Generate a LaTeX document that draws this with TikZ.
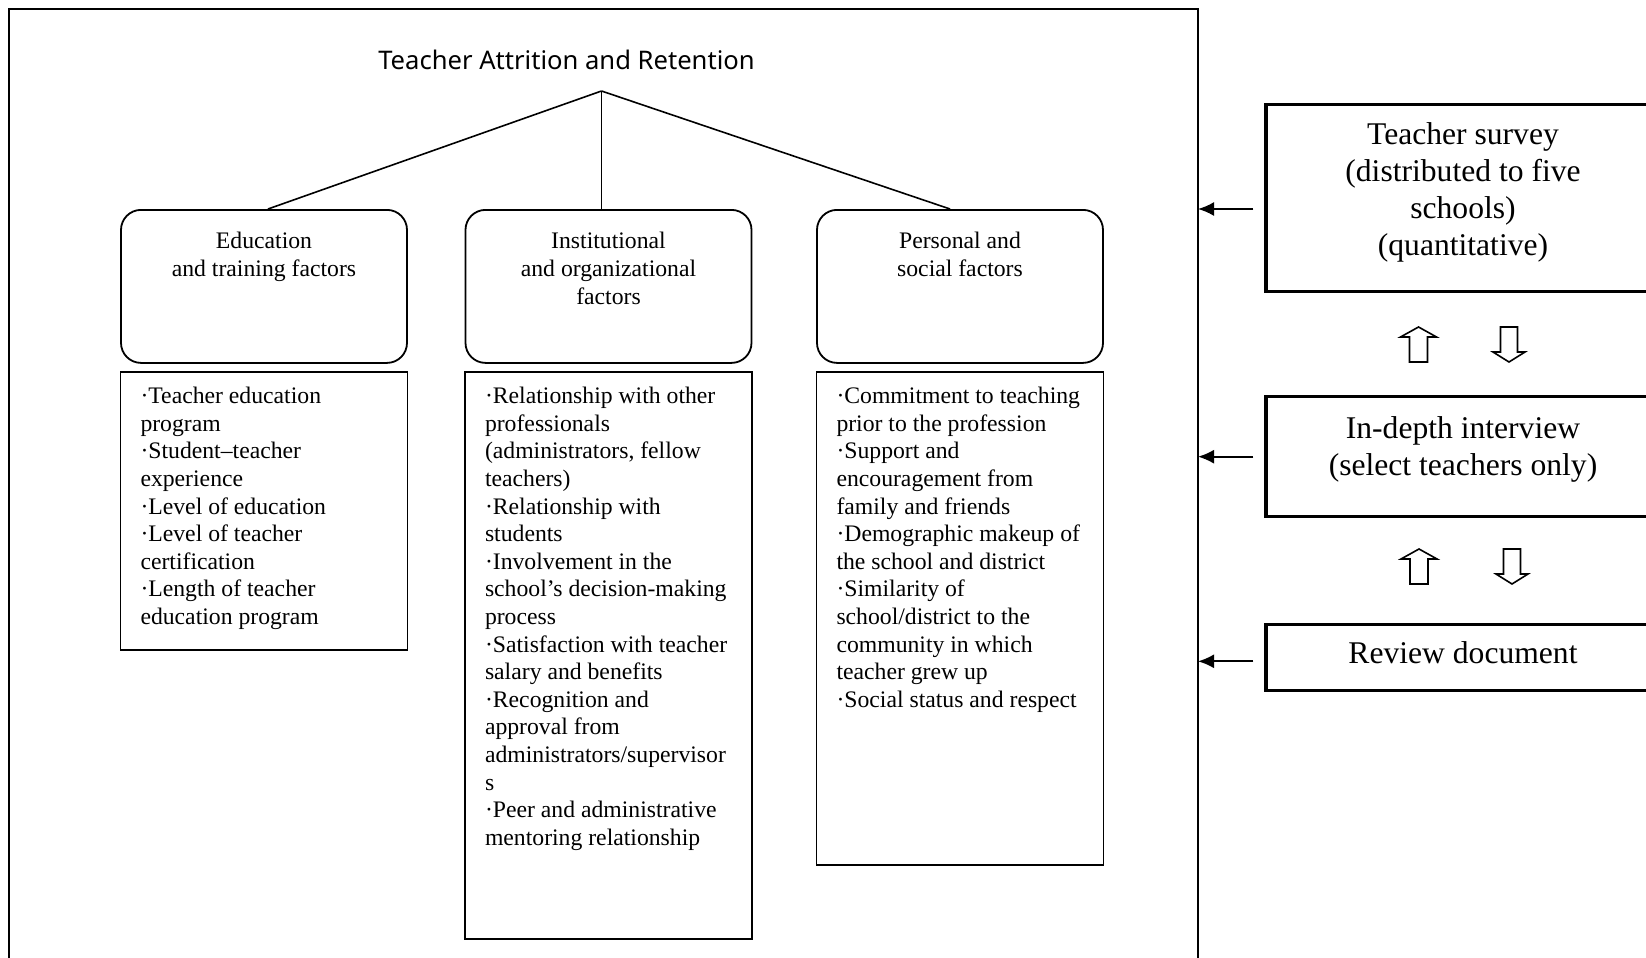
\documentclass[tikz,border=0pt]{standalone}
\usepackage{fontspec}
\setmainfont{Liberation Serif}
\newfontfamily\titlefont{Noto Sans}
\usetikzlibrary{arrows.meta,positioning}

\tikzset{
	thick,
	>=latex,
	factorhead/.style = {
			draw, rounded corners=10pt, line width=0.9pt,
			anchor=north, align=flush center,
			text width=143pt, inner xsep=0pt, inner ysep=0pt,
			text height=19.5pt, text depth=57pt,
			font=\fontsize{11.85}{13.8}\selectfont,
		},
	factorlist/.style = {
			draw, line width=0.9pt,
			align=flush left,
			text width=127.5pt, inner xsep=8pt, inner ysep=0pt,
			text height=16pt,
			font=\fontsize{11.85}{13.8}\selectfont,
			execute at begin node={\leftskip=2pt\hyphenpenalty=10000\relax},
		},
	method/.style = {
			draw, line width=1.7pt,
			align=flush center, text width=197pt, inner xsep=0pt, inner ysep=0pt,
			font=\fontsize{15.8}{18.5}\selectfont,
		},
	pointer/.style = {-{Latex[length=8pt,width=7pt]}, line width=0.9pt},
	hollowup/.pic = {
			\draw[line width=0.8pt] (0,0) -- (18,10) -- (9,10) -- (9,35) -- (-9,35) -- (-9,10) -- (-18,10) -- cycle;
		},
	hollowdown/.pic = {
			\draw[line width=0.8pt] (-8.5,0) -- (8.5,0) -- (8.5,25) -- (16,25) -- (0,35) -- (-16,25) -- (-8.5,25) -- cycle;
		},
}

\begin{document}
\begin{tikzpicture}[x=0.5pt,y=-0.5pt]
		\useasboundingbox (0,0) rectangle (1646,958);
		\clip (0,0) rectangle (1646,958);

		% outer frame, open at the bottom
		\draw[line width=1.2pt] (9,970) -- (9,9) -- (1198,9) -- (1198,970);
		\coordinate (frame) at (1198,0);

		\node[anchor=base, font=\titlefont\fontsize{12.8}{15}\selectfont] (title) at (566.5,69) {Teacher Attrition and Retention};
		\coordinate (apex) at (601.5,91);

		\node[factorhead] (ehead) at (264,209) {Education\\and training factors};
		\node[factorhead] (ihead) at (608.5,209) {Institutional\\and organizational\\factors};
		\node[factorhead] (phead) at (960,209) {Personal and\\social factors};

		\node[factorlist, text depth=123pt, below=3.5pt of ehead] (elist) {·Teacher education\\program\\·Student–teacher\\experience\\·Level of education\\·Level of teacher\\certification\\·Length of teacher\\education program};
		\node[factorlist, text depth=267.5pt, below=3.5pt of ihead] (ilist) {·Relationship with other\\professionals\\(administrators, fellow\\teachers)\\·Relationship with\\students\\·Involvement in the\\school’s decision-making\\process\\·Satisfaction with teacher\\salary and benefits\\·Recognition and\\approval from\\administrators/supervisor\\s\\·Peer and administrative\\mentoring relationship};
		\node[factorlist, text depth=230.5pt, below=3.5pt of phead] (plist) {·Commitment to teaching\\prior to the profession\\·Support and\\encouragement from\\family and friends\\·Demographic makeup of\\the school and district\\·Similarity of\\school/district to the\\community in which\\teacher grew up\\·Social status and respect};

		\draw[line width=0.8pt] (apex) -- ([xshift=2pt]ehead.north);
		\draw[line width=0.8pt] (apex) -- (apex |- ihead.north);
		\draw[line width=0.8pt] (apex) -- ([xshift=-5pt]phead.north);

		\node[method, anchor=north, text height=20pt, text depth=73.5pt] (survey) at (1463,103) {Teacher survey\\(distributed to five\\schools)\\(quantitative)};
		\node[method, text height=21pt, text depth=39pt, below=50.8pt of survey] (interview) {In-depth interview\\(select teachers only)};
		\node[method, text height=19.5pt, text depth=13.5pt, below=52.1pt of interview] (review) {Review document};

		\pic at (1418.5,327) {hollowup};
		\pic at (1509,327) {hollowdown};
		\pic at (1419,549) {hollowup};
		\pic at (1512,549) {hollowdown};

		\coordinate (s1) at ([xshift=-5.5pt,yshift=-5.4pt]survey.west);
		\coordinate (s2) at ([xshift=-5.5pt]interview.west);
		\coordinate (s3) at ([xshift=-5.5pt,yshift=-2pt]review.west);
		\draw[pointer] (s1) -- (s1 -| frame);
		\draw[pointer] (s2) -- (s2 -| frame);
		\draw[pointer] (s3) -- (s3 -| frame);
	\end{tikzpicture}
\end{document}
